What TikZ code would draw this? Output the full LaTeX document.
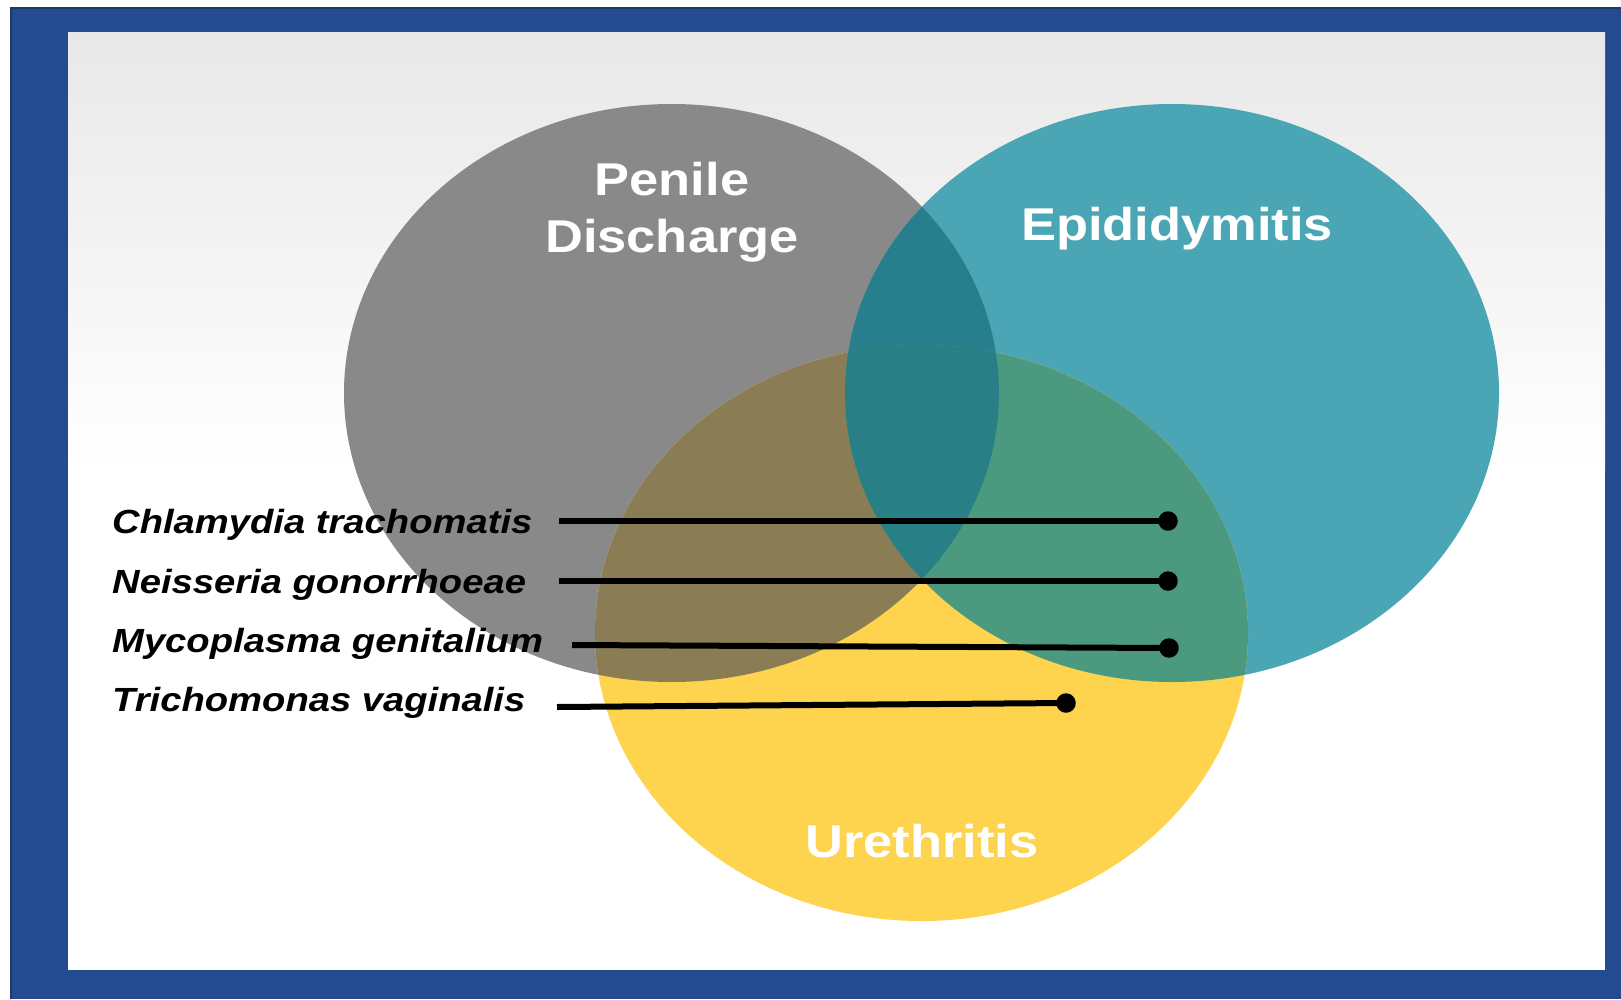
\documentclass[tikz,border=0pt]{standalone}
\usepackage{fontspec}
\setmainfont{Liberation Sans}
\usepackage{graphicx}
\definecolor{frameblue}{RGB}{36,75,143}
\definecolor{edgeblue}{RGB}{30,58,105}
\definecolor{topgray}{RGB}{232,232,232}
\definecolor{cG}{RGB}{137,137,137}
\definecolor{cT}{RGB}{74,165,181}
\definecolor{cY}{RGB}{254,211,78}
\definecolor{cGT}{RGB}{39,127,142}
\definecolor{cGY}{RGB}{138,124,85}
\definecolor{cTY}{RGB}{75,154,128}
\definecolor{cGTY}{RGB}{41,127,134}
\newcommand{\xstr}[1]{\scalebox{1.14}[1]{#1}}
\tikzset{
  biglabel/.style={anchor=base, inner sep=0pt, text=white, font=\fontsize{46}{52}\selectfont\bfseries},
  species/.style={anchor=base west, inner sep=0pt, text=black, font=\fontsize{33.5}{40}\selectfont\bfseries\itshape},
  dotmark/.style={circle, fill=black, inner sep=0pt, minimum size=19.5pt},
  conn/.style={draw=black, line width=6pt}
}
\begin{document}
\begin{tikzpicture}[x=1pt, y=-1pt]
\useasboundingbox (0,0) rectangle (1621,999);
% frame
\fill[white] (0,0) rectangle (1621,999);
\fill[frameblue] (10,7) rectangle (1621,999);
\draw[edgeblue, line width=2pt] (11,999) -- (11,8) -- (1621,8);
% inner panel
\fill[white] (68,32) rectangle (1605,970);
\shade[top color=topgray, bottom color=white] (68,32) rectangle (1605,470);
% circles
\def\Gp{(671.5,393) ellipse [x radius=327.5, y radius=289]}
\def\Tp{(1172,393) ellipse [x radius=327, y radius=289]}
\def\Yp{(921.5,633) ellipse [x radius=326.5, y radius=288]}
\fill[cG] \Gp;
\fill[cT] \Tp;
\fill[cY] \Yp;
\begin{scope}\clip \Gp; \fill[cGT] \Tp; \end{scope}
\begin{scope}\clip \Gp; \fill[cGY] \Yp; \end{scope}
\begin{scope}\clip \Tp; \fill[cTY] \Yp; \end{scope}
\begin{scope}\clip \Gp; \clip \Tp; \fill[cGTY] \Yp; \end{scope}
% circle labels
\node[biglabel] (pen) at (672,195) {\xstr{Penile}};
\node[biglabel] (dis) at (672,252) {\xstr{Discharge}};
\node[biglabel] (epi) at (1177,240) {\xstr{Epididymitis}};
\node[biglabel] (ure) at (922,857) {\xstr{Urethritis}};
% species
\node[species] (ct) at (112,533) {\xstr{Chlamydia trachomatis}};
\node[species] (ng) at (112,593) {\xstr{Neisseria gonorrhoeae}};
\node[species] (mg) at (112,652) {\xstr{Mycoplasma genitalium}};
\node[species] (tv) at (112,711) {\xstr{Trichomonas vaginalis}};
% connectors
\coordinate (s1) at (559,521);
\coordinate (s2) at (559,581);
\coordinate (s3) at (572,645);
\coordinate (s4) at (557,707);
\node[dotmark] (d1) at (1168,521) {};
\node[dotmark] (d2) at (1168,581) {};
\node[dotmark] (d3) at (1169,648) {};
\node[dotmark] (d4) at (1066,703) {};
\draw[conn] (s1) -- (d1.center);
\draw[conn] (s2) -- (d2.center);
\draw[conn] (s3) -- (d3.center);
\draw[conn] (s4) -- (d4.center);
\end{tikzpicture}
\end{document}
